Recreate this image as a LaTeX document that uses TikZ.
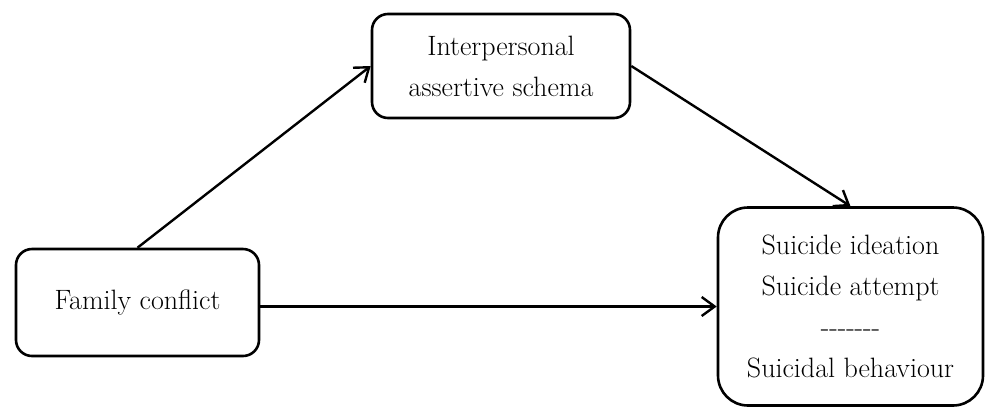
\documentclass[tikz,border=0pt]{standalone}
\usepackage{fontspec}
\setmainfont{Latin Modern Roman}
\usetikzlibrary{arrows.meta}
\begin{document}
\begin{tikzpicture}[x=1pt,y=-1pt,
  box/.style={draw,line width=2.6pt,rounded corners=16pt,align=center,inner sep=0pt,
    font=\fontsize{28}{41}\selectfont},
  conn/.style={line width=2.4pt,-{Straight Barb[length=13pt,width=19pt,line width=2.4pt]}}]
\useasboundingbox (0,0) rectangle (987,408);
\node[box,minimum width=243pt,minimum height=107pt] (fam) at (137.5,302.5) {Family conflict};
\node[box,minimum width=258pt,minimum height=104pt] (int) at (501,66) {Interpersonal\\assertive schema};
\node[box,rounded corners=30pt,minimum width=265pt,minimum height=198pt] (sui) at (850.5,306.5)
  {Suicide ideation\\Suicide attempt\\-{}-{}-{}-{}-{}-{}-\\Suicidal behaviour};
\draw[conn] (fam.north) -- (int.west);
\draw[conn] (sui.west -| fam.east) -- (sui.west);
\draw[conn] (int.east) -- (sui.north);
\end{tikzpicture}
\end{document}
